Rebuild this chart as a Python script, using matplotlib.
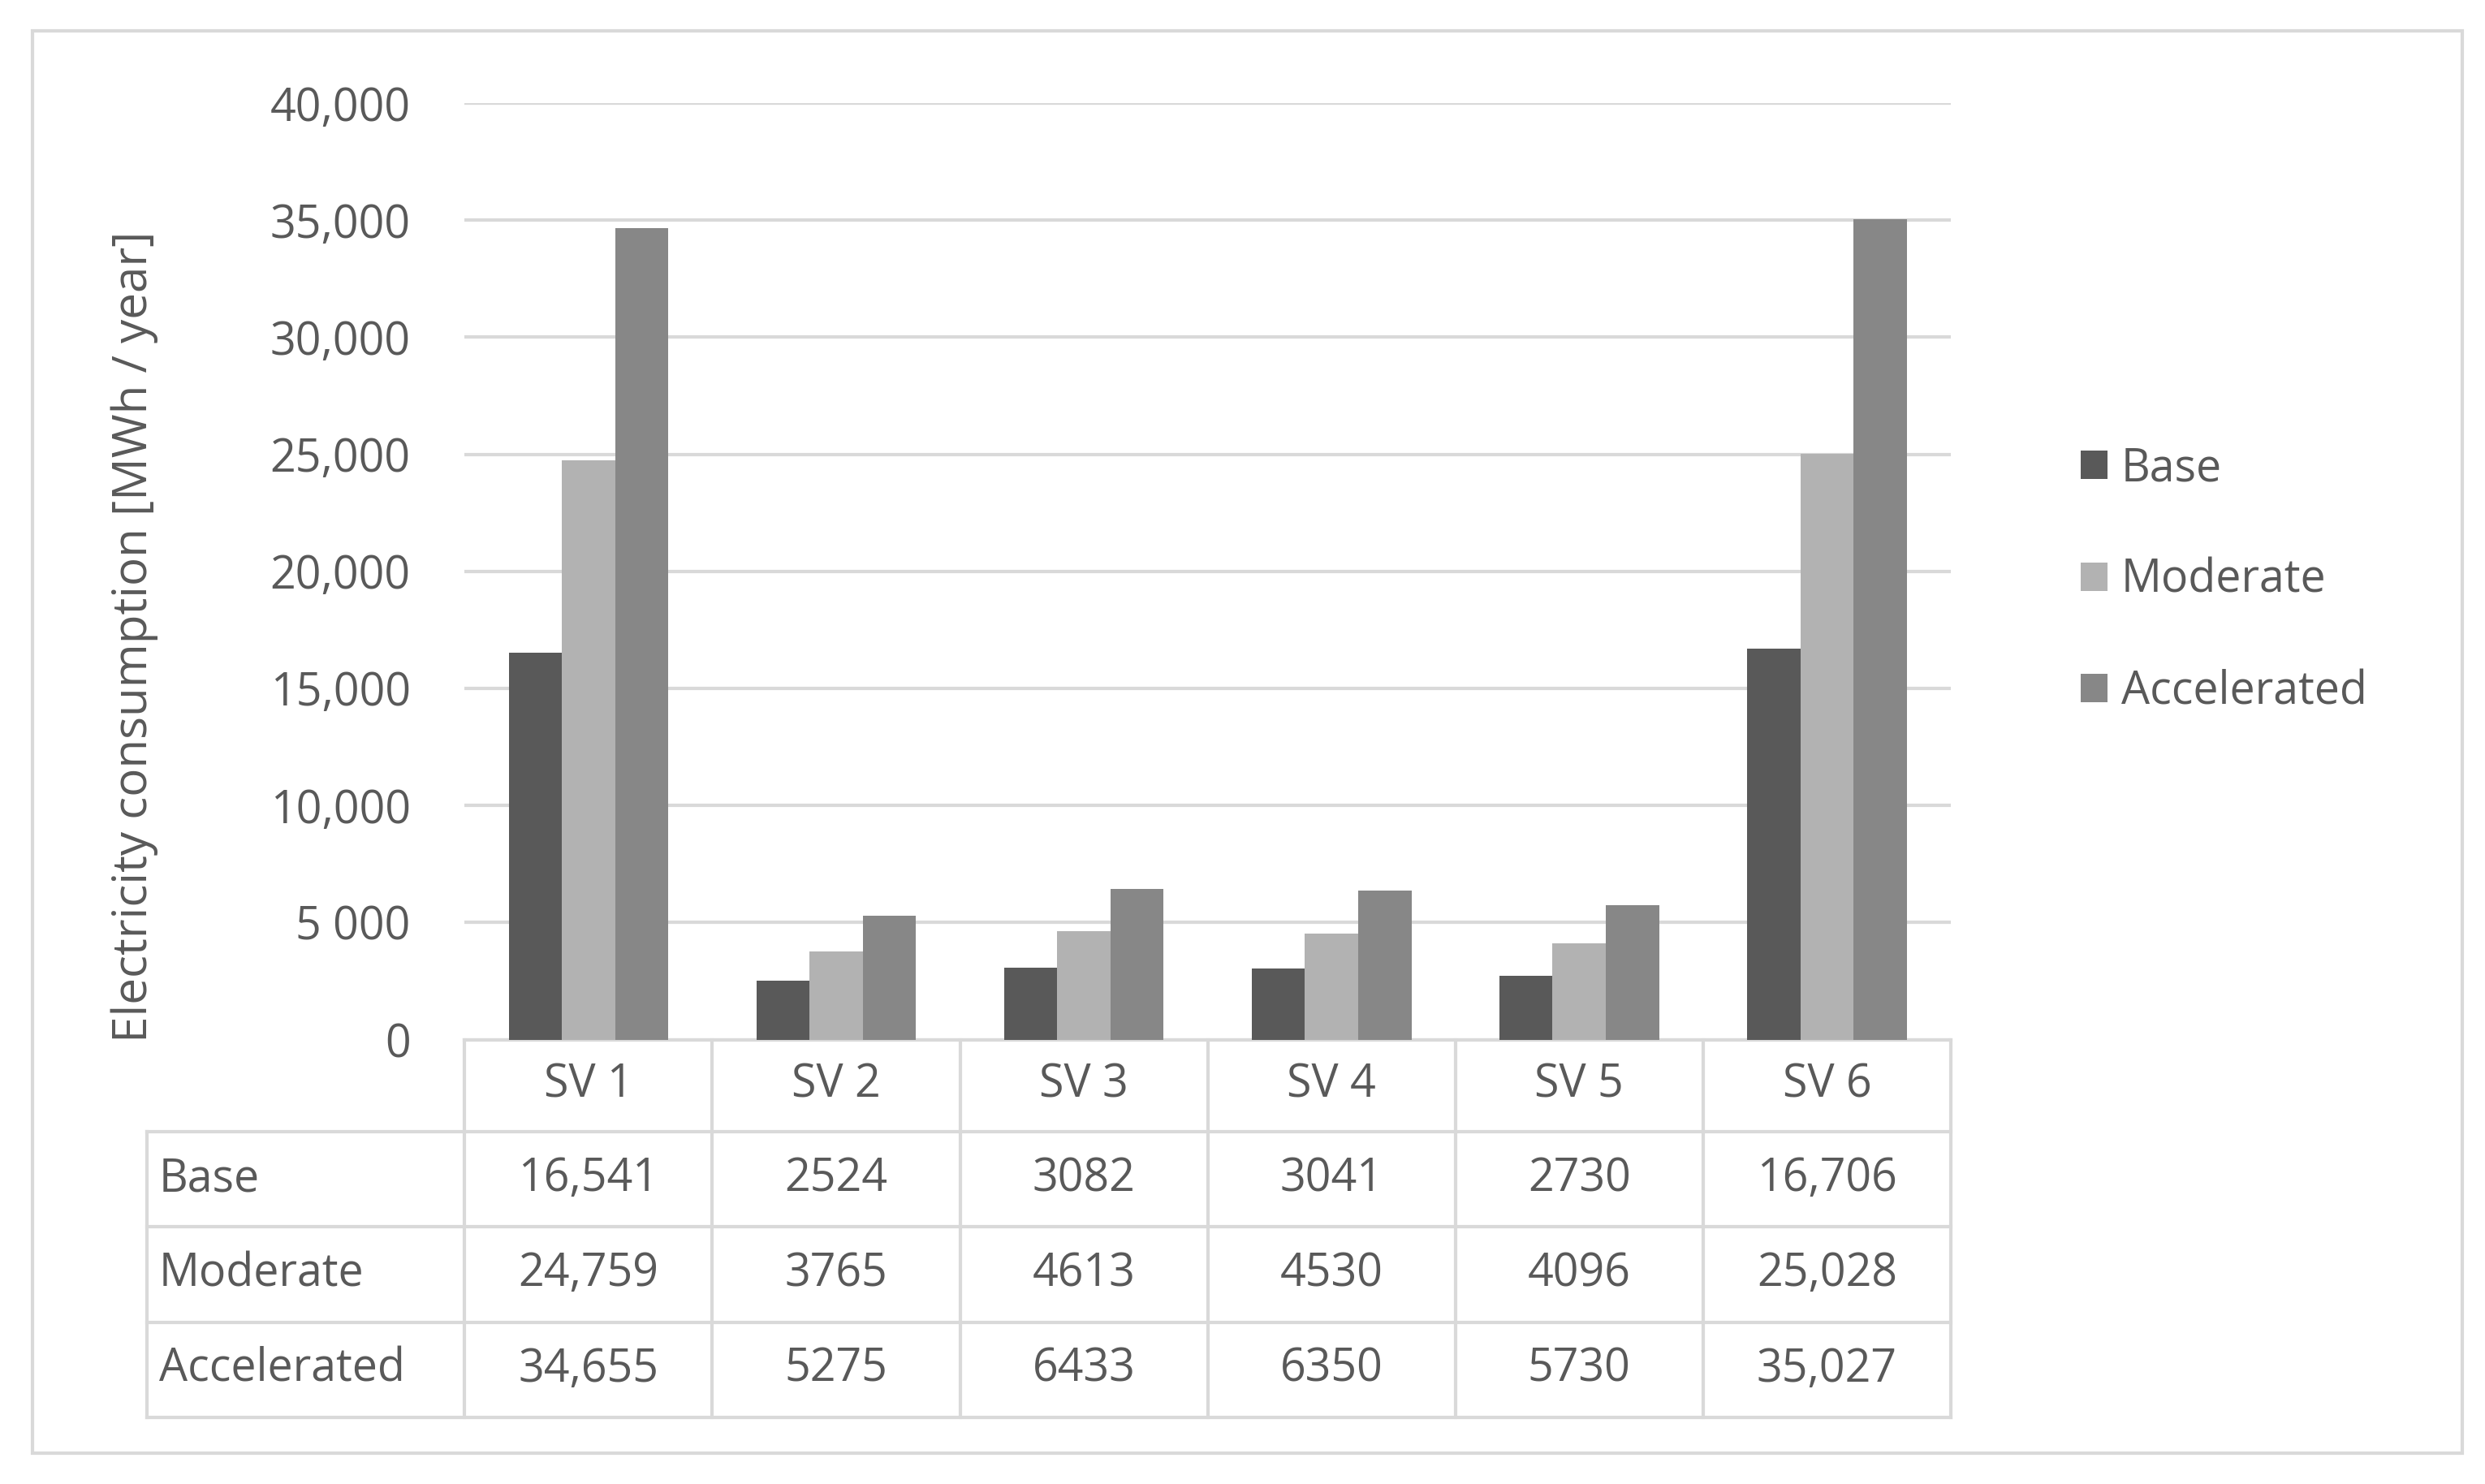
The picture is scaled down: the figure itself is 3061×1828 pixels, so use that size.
import numpy as np
import matplotlib
matplotlib.use("Agg")
import matplotlib.pyplot as plt
from matplotlib.patches import Rectangle

categories = ["SV 1", "SV 2", "SV 3", "SV 4", "SV 5", "SV 6"]
series_names = ["Base", "Moderate", "Accelerated"]
base = [16541, 2524, 3082, 3041, 2730, 16706]
moderate = [24759, 3765, 4613, 4530, 4096, 25028]
accelerated = [34655, 5275, 6433, 6350, 5730, 35027]
table_text = [
    ["16,541", "2524", "3082", "3041", "2730", "16,706"],
    ["24,759", "3765", "4613", "4530", "4096", "25,028"],
    ["34,655", "5275", "6433", "6350", "5730", "35,027"],
]
yticks = [0, 5000, 10000, 15000, 20000, 25000, 30000, 35000, 40000]
ytick_labels = ["0", "5 000", "10,000", "15,000", "20,000", "25,000", "30,000", "35,000", "40,000"]
colors = ["#595959", "#b2b2b2", "#878787"]

plt.rcParams["font.family"] = ["Open Sans", "DejaVu Sans"]
txt = "#595959"
grid = "#d9d9d9"
fs = 20

fig = plt.figure(figsize=(15.305, 9.14), dpi=200)
fig.patches.append(Rectangle((0.013, 0.021), 0.978, 0.958, transform=fig.transFigure,
                             fill=False, edgecolor=grid, lw=1.5))
ax = fig.add_axes([0.187, 0.2995, 0.598, 0.631])

x = np.arange(len(categories))
w = 0.215
for i, (vals, name) in enumerate(zip([base, moderate, accelerated], series_names)):
    ax.bar(x + (i - 1) * w, vals, w, color=colors[i], label=name, zorder=3)

ax.set_xlim(-0.5, len(categories) - 0.5)
ax.set_ylim(0, 40000)
ax.set_yticks(yticks)
ax.set_yticklabels(ytick_labels, fontsize=fs, color=txt)
ax.tick_params(axis="y", length=0, pad=24)
ax.set_xticks([])
ax.grid(axis="y", color=grid, lw=1.5, zorder=0)
for s in ax.spines.values():
    s.set_visible(False)
ax.set_ylabel("Electricity consumption [MWh / year]", fontsize=21, color=txt)
ax.yaxis.set_label_coords(-0.206, 0.43)

# data table under the axis
n = len(categories)
row_h = 60 / 590
header_h = 58 / 590
label_w = 200 / 156 / n
tr = ax.transAxes
kw = dict(transform=tr, clip_on=False, color=grid, lw=1.5)
top = 0
bottom = -(header_h + 3 * row_h)
ax.plot([0, 1], [0, 0], **kw)
ax.plot([-label_w, 1], [-header_h, -header_h], **kw)
for r in range(1, 4):
    yy = -header_h - r * row_h
    ax.plot([-label_w, 1], [yy, yy], **kw)
for c in range(n + 1):
    ax.plot([c / n, c / n], [top, bottom], **kw)
ax.plot([-label_w, -label_w], [-header_h, bottom], **kw)

for c, cat in enumerate(categories):
    ax.text((c + 0.5) / n, -header_h / 2, cat, transform=tr, ha="center", va="center",
            fontsize=fs, color=txt)
for r, (name, row) in enumerate(zip(series_names, table_text)):
    yy = -header_h - (r + 0.5) * row_h
    ax.text(-label_w + 0.008, yy, name, transform=tr, ha="left", va="center",
            fontsize=fs, color=txt)
    for c, v in enumerate(row):
        ax.text((c + 0.5) / n, yy, v, transform=tr, ha="center", va="center",
                fontsize=fs, color=txt)

leg = ax.legend(loc="center left", bbox_to_anchor=(1.06, 0.49), frameon=False,
                fontsize=fs, handlelength=0.6, handleheight=0.6, labelspacing=1.45,
                handletextpad=0.3)
for t in leg.get_texts():
    t.set_color(txt)

fig.savefig("out.png", dpi=200)
